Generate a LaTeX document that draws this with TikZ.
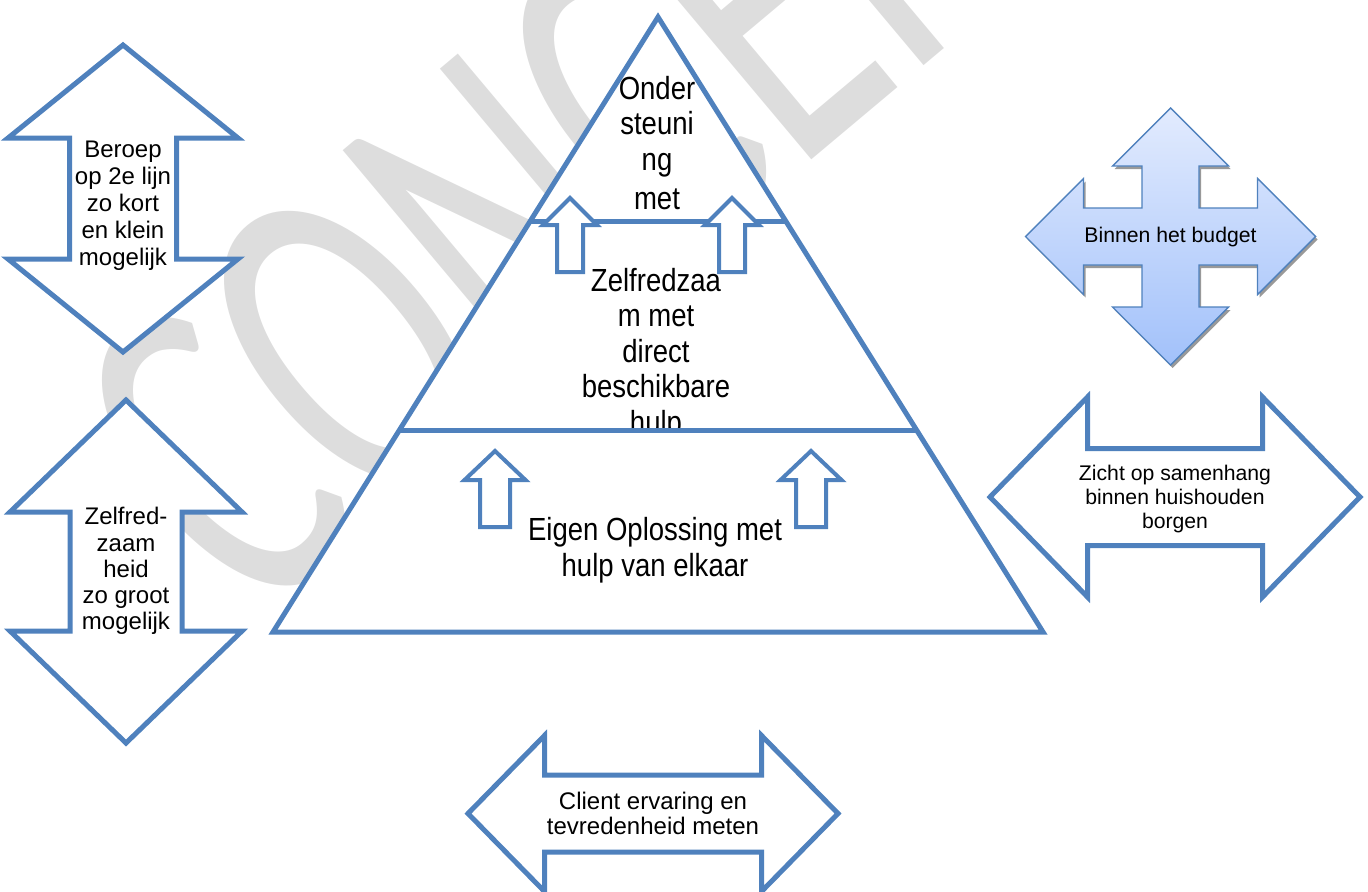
\documentclass[tikz,border=0pt]{standalone}
\usepackage{fontspec}
\setmainfont{Liberation Sans}
\newfontfamily\pyrfont[FakeStretch=0.86]{Liberation Sans}
\newfontfamily\markfont{Carlito}

\definecolor{boxblue}{HTML}{4F81BD}
\definecolor{markgray}{HTML}{DDDDDD}
\definecolor{quadtop}{HTML}{E2EBFE}
\definecolor{quadbot}{HTML}{A2C1FA}

\newcommand{\vblock}[6]{({#1},{#2-#3}) -- ({#1+#6},{#2-#3+#4}) -- ({#1+#5},{#2-#3+#4})
  -- ({#1+#5},{#2+#3-#4}) -- ({#1+#6},{#2+#3-#4}) -- ({#1},{#2+#3}) -- ({#1-#6},{#2+#3-#4})
  -- ({#1-#5},{#2+#3-#4}) -- ({#1-#5},{#2-#3+#4}) -- ({#1-#6},{#2-#3+#4}) -- cycle}
\newcommand{\hblock}[6]{({#1-#3},{#2}) -- ({#1-#3+#4},{#2-#6}) -- ({#1-#3+#4},{#2-#5})
  -- ({#1+#3-#4},{#2-#5}) -- ({#1+#3-#4},{#2-#6}) -- ({#1+#3},{#2}) -- ({#1+#3-#4},{#2+#6})
  -- ({#1+#3-#4},{#2+#5}) -- ({#1-#3+#4},{#2+#5}) -- ({#1-#3+#4},{#2+#6}) -- cycle}
\newcommand{\upblock}[6]{({#1},{#2}) -- ({#1+#6},{#3}) -- ({#1+#5},{#3}) -- ({#1+#5},{#4})
  -- ({#1-#5},{#4}) -- ({#1-#5},{#3}) -- ({#1-#6},{#3}) -- cycle}
\newcommand{\quadblock}[7]{({#1},{#2-#3}) -- ({#1+#7},{#2-#3+#5}) -- ({#1+#6},{#2-#3+#5})
  -- ({#1+#6},{#2-#6}) -- ({#1+#4-#5},{#2-#6}) -- ({#1+#4-#5},{#2-#7}) -- ({#1+#4},{#2})
  -- ({#1+#4-#5},{#2+#7}) -- ({#1+#4-#5},{#2+#6}) -- ({#1+#6},{#2+#6}) -- ({#1+#6},{#2+#3-#5})
  -- ({#1+#7},{#2+#3-#5}) -- ({#1},{#2+#3}) -- ({#1-#7},{#2+#3-#5}) -- ({#1-#6},{#2+#3-#5})
  -- ({#1-#6},{#2+#6}) -- ({#1-#4+#5},{#2+#6}) -- ({#1-#4+#5},{#2+#7}) -- ({#1-#4},{#2})
  -- ({#1-#4+#5},{#2-#7}) -- ({#1-#4+#5},{#2-#6}) -- ({#1-#6},{#2-#6}) -- ({#1-#6},{#2-#3+#5})
  -- ({#1-#7},{#2-#3+#5}) -- cycle}

\begin{document}
\begin{tikzpicture}[x=0.5pt,y=-0.5pt]
  \tikzset{blockarrow/.style={draw=boxblue,fill=white,line width=2.5pt},
    smallarrow/.style={draw=boxblue,fill=white,line width=2pt},
    pyrline/.style={draw=boxblue,line width=2.5pt},
    sidetext/.style={align=center,font=\fontsize{12}{13.5}\selectfont},
    smalltext/.style={align=center,font=\fontsize{10.6}{12}\selectfont},
    pyrtext/.style={align=center,font=\pyrfont\fontsize{16}{17.75}\selectfont}}
  \useasboundingbox (0,0) rectangle (1368,891);
  \begin{scope}
    \clip (0,0) rectangle (1368,891);
    \node[text=markgray,rotate=40,yscale=1.6,font=\markfont\fontsize{150}{150}\selectfont] (mark) at (595,140) {CONCEPT};
  \end{scope}

  \coordinate (apex) at (658,17);
  \coordinate (bl) at (273,632);
  \coordinate (br) at (1043,632);
  \coordinate (l1) at (530.3,221);
  \coordinate (r1) at (785.7,221);
  \coordinate (l2) at (399.5,430);
  \coordinate (r2) at (916.5,430);

  \fill[white] (apex) -- (br) -- (bl) -- cycle;
  \node[pyrtext] (top) at (657,143) {Onder\\steuni\\ng\\[1.75pt]met};
  \fill[white] (l1) -- (r1) -- (r2) -- (l2) -- cycle;
  \node[pyrtext] (middle) at (656,354) {Zelfredzaa\\m met\\direct\\beschikbare\\hulp};
  \fill[white] (l2) -- (r2) -- (br) -- (bl) -- cycle;
  \node[pyrtext] (bottom) at (655,550) {Eigen Oplossing met\\hulp van elkaar};
  \draw[pyrline] (apex) -- (br) -- (bl) -- cycle;
  \draw[pyrline] (l1) -- (r1);
  \draw[pyrline] (l2) -- (r2);

  \foreach \cx in {570,732}
    \draw[smallarrow] \upblock{\cx}{198}{225}{272}{13}{27};
  \foreach \cx in {495,811}
    \draw[smallarrow] \upblock{\cx}{451}{480}{527}{15}{30.5};

  \draw[blockarrow] \vblock{123}{198.5}{153.5}{93}{53.5}{115};
  \node[sidetext] (beroep) at (123,206) {Beroep\\op 2e lijn\\zo kort\\en klein\\mogelijk};

  \draw[blockarrow] \vblock{126}{571.5}{171.5}{112}{56}{116};
  \node[sidetext,font=\fontsize{12}{13.1}\selectfont] (zelfred) at (126,571) {Zelfred-\\zaam\\heid\\zo groot\\mogelijk};

  \draw[blockarrow] \hblock{1175}{497}{185}{97.5}{48.5}{100};
  \node[smalltext] (zicht) at (1175,499) {Zicht op samenhang\\binnen huishouden\\borgen};

  \draw[blockarrow] \hblock{653}{813.5}{185}{76.5}{38.5}{78};
  \node[sidetext,font=\fontsize{12}{12.6}\selectfont] (client) at (653,813) {Client ervaring en\\tevredenheid meten};

  \fill[black!40,shift={(2,3)}] \quadblock{1170.5}{236.5}{128.5}{145}{58}{28.5}{58};
  \shade[top color=quadtop,bottom color=quadbot] \quadblock{1170.5}{236.5}{128.5}{145}{58}{28.5}{58};
  \draw[boxblue,line width=0.7pt] \quadblock{1170.5}{236.5}{128.5}{145}{58}{28.5}{58};
  \node[smalltext] (budget) at (1170.5,237) {Binnen het budget};
\end{tikzpicture}
\end{document}
